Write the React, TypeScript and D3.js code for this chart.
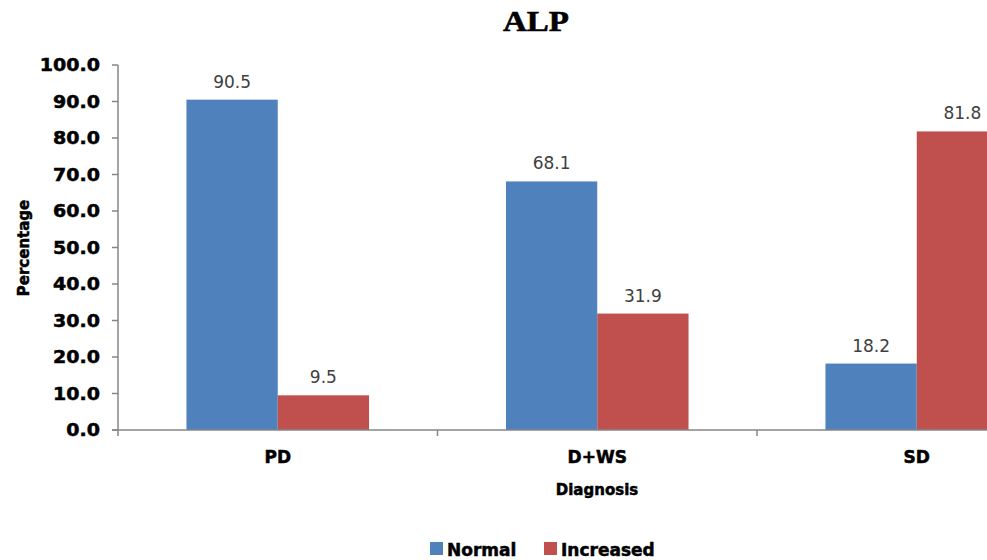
import React from "react";
import * as d3 from "d3";

const categories = ["PD", "D+WS", "SD"];
const seriesNames = ["Normal", "Increased"];
const normalValues = [90.5, 68.1, 18.2];
const increasedValues = [9.5, 31.9, 81.8];
const yTicks = [0, 10, 20, 30, 40, 50, 60, 70, 80, 90, 100];
const colors = ["#4F81BD", "#C0504D"];

const W = 987;
const H = 560;
const axisX = 118;
const plotTop = 65;
const plotBottom = 430;
const groupStep = 319.5;

const boldFont = "'DejaVu Sans', sans-serif";
// heavy black lettering for axis, category and legend text
const heavy = { fontFamily: boldFont, fontWeight: "bold" as const, fill: "#000", stroke: "#000", strokeWidth: 0.5 };

export default function App() {
  const y = d3.scaleLinear().domain([0, 100]).range([plotBottom, plotTop]);
  const x0 = d3
    .scaleBand<string>()
    .domain(categories)
    .range([axisX, axisX + groupStep * categories.length])
    .paddingInner(150 / 350)
    .paddingOuter(75 / 350);
  const x1 = d3.scaleBand<string>().domain(seriesNames).range([0, x0.bandwidth()]);
  const values = [normalValues, increasedValues];
  const boundaries = d3.range(categories.length + 1).map((i) => axisX + i * x0.step());

  return (
    <svg
      width={W}
      height={H}
      style={{ position: "absolute", left: 0, top: 0, background: "#fff" }}
    >
      <rect width={W} height={H} fill="#fff" />
      <text
        x={536}
        y={31}
        textAnchor="middle"
        fontFamily="'Liberation Serif', serif"
        fontWeight="bold"
        fontSize={30}
        fill="#000"
        stroke="#000"
        strokeWidth={0.6}
        transform="translate(536,0) scale(1.1,1) translate(-536,0)"
      >
        ALP
      </text>

      {/* bars */}
      {categories.map((c, ci) =>
        seriesNames.map((s, si) => {
          const v = values[si][ci];
          const bx = (x0(c) as number) + (x1(s) as number);
          return (
            <g key={c + s}>
              <rect
                x={bx}
                y={y(v)}
                width={x1.bandwidth()}
                height={y(0) - y(v)}
                fill={colors[si]}
              />
              <text
                x={bx + x1.bandwidth() / 2}
                y={y(v) - 12}
                textAnchor="middle"
                fontFamily="'DejaVu Sans', sans-serif"
                fontSize={17}
                fill="#404040"
              >
                {v.toFixed(1)}
              </text>
            </g>
          );
        })
      )}

      {/* y axis */}
      <line x1={axisX} x2={axisX} y1={plotTop} y2={plotBottom} stroke="#868686" strokeWidth={1.5} />
      {yTicks.map((t) => (
        <g key={t}>
          <line x1={axisX - 6} x2={axisX} y1={y(t)} y2={y(t)} stroke="#868686" strokeWidth={1.5} />
          <text
            x={100}
            y={y(t)}
            dy="0.36em"
            textAnchor="end"
            fontSize={17}
            {...heavy}
            transform={`translate(100,0) scale(1.12,1) translate(-100,0)`}
          >
            {t.toFixed(1)}
          </text>
        </g>
      ))}

      {/* x axis */}
      <line x1={axisX - 6} x2={W} y1={plotBottom} y2={plotBottom} stroke="#868686" strokeWidth={1.5} />
      {boundaries.map((bx, i) => (
        <line key={i} x1={bx} x2={bx} y1={plotBottom} y2={plotBottom + 6} stroke="#868686" strokeWidth={1.5} />
      ))}
      {categories.map((c) => (
        <text
          key={c}
          x={(x0(c) as number) + x0.bandwidth() / 2}
          y={463}
          textAnchor="middle"
          fontSize={17}
          {...heavy}
        >
          {c}
        </text>
      ))}

      <text x={597} y={495} textAnchor="middle" fontSize={15} {...heavy}>
        Diagnosis
      </text>
      <text
        transform={`translate(29,248) rotate(-90)`}
        textAnchor="middle"
        fontSize={15}
        {...heavy}
      >
        Percentage
      </text>

      {/* legend */}
      {seriesNames.map((s, i) => {
        const lx = [430, 544][i];
        return (
          <g key={s}>
            <rect x={lx} y={542} width={13} height={13} fill={colors[i]} />
            <text x={lx + 17} y={556} fontSize={17} {...heavy}>
              {s}
            </text>
          </g>
        );
      })}
    </svg>
  );
}
